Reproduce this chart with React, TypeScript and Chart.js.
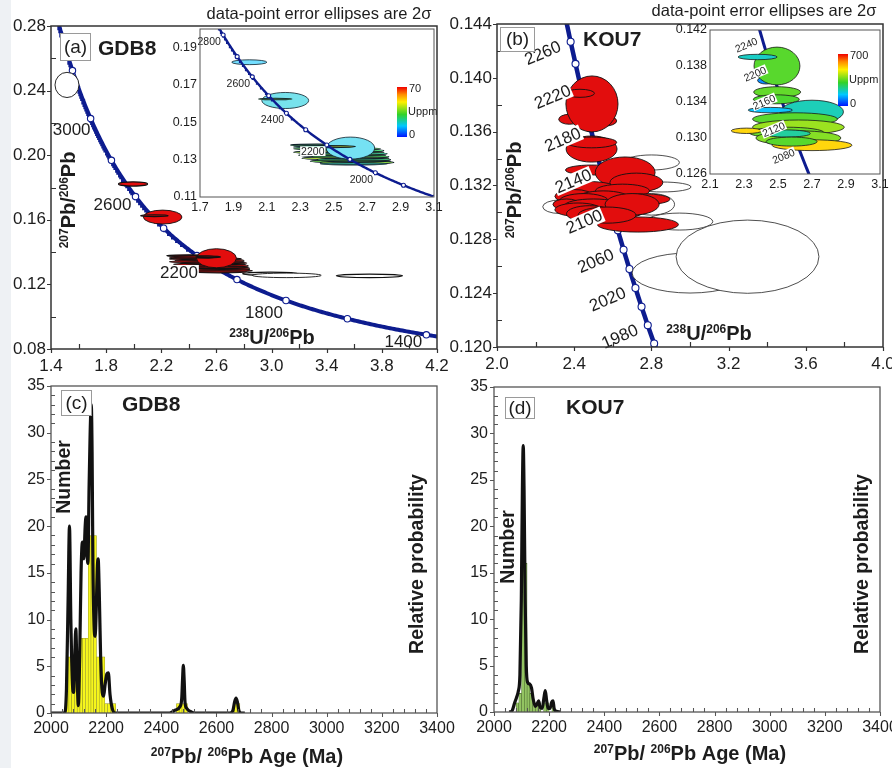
import React, { useEffect, useRef } from "react";
import { Chart, registerables } from "chart.js";

Chart.register(...registerables);

const W = 892;
const H = 768;
const FONT = "'Liberation Sans', Arial, Helvetica, sans-serif";
const INK = "#1d1d1d";
const CONCORDIA_BLUE = "#0d1c8f";
const SPOT_RED = "#e20d0d";

// U–Pb decay constants (Steiger & Jäger 1977) for the Tera–Wasserburg concordia
const LAMBDA_238 = 1.55125e-10;
const LAMBDA_235 = 9.8485e-10;
const U238_OVER_U235 = 137.88;

// ---------- (a) GDB8 Tera–Wasserburg diagram ----------
const A_X_TICKS = [1.4, 1.8, 2.2, 2.6, 3.0, 3.4, 3.8, 4.2];
const A_Y_TICKS = [0.08, 0.12, 0.16, 0.2, 0.24, 0.28];
const A_MARK_AGES = [1400, 1600, 1800, 2000, 2200, 2400, 2600, 2800, 3000, 3200];
const A_LABEL_AGES = [3000, 2600, 2200, 1800, 1400];
// [238U/206Pb, 207Pb/206Pb, 2σ x, 2σ y, U ppm]
const A_SPOTS = [
  [1.995, 0.1822, 0.105, 0.0013, 15],
  [2.21, 0.1617, 0.14, 0.0043, 18],
  [2.15, 0.1625, 0.1, 0.0004, 35],
  [2.4, 0.1378, 0.16, 0.0005, 30],
  [2.5, 0.1368, 0.24, 0.0006, 25],
  [2.52, 0.1358, 0.26, 0.0007, 32],
  [2.55, 0.1349, 0.25, 0.0008, 28],
  [2.53, 0.134, 0.27, 0.0007, 40],
  [2.58, 0.1332, 0.24, 0.0008, 24],
  [2.55, 0.1324, 0.26, 0.0007, 36],
  [2.6, 0.1316, 0.23, 0.0008, 30],
  [2.57, 0.1308, 0.26, 0.0007, 42],
  [2.62, 0.13, 0.22, 0.0008, 26],
  [2.6, 0.1292, 0.24, 0.0007, 34],
  [2.64, 0.1285, 0.22, 0.0007, 38],
  [2.62, 0.1278, 0.2, 0.0006, 22],
  [2.6, 0.1362, 0.145, 0.0059, 17],
  [2.45, 0.137, 0.15, 0.0006, 25],
  [2.54, 0.137, 0.09, 0.0004, 45],
];
// analyses not used in the age calculation (open ellipses)
const A_OPEN = [
  [1.516, 0.2435, 0.087, 0.0078],
  [2.99, 0.1266, 0.2, 0.001],
  [3.11, 0.1256, 0.25, 0.0014],
  [3.71, 0.1253, 0.24, 0.0011],
];

// (a) inset
const AI_X_TICKS = [1.7, 1.9, 2.1, 2.3, 2.5, 2.7, 2.9, 3.1];
const AI_Y_TICKS = [0.11, 0.13, 0.15, 0.17, 0.19];
const AI_MARK_AGES = [1800, 1900, 2000, 2100, 2200, 2300, 2400, 2500, 2600, 2700, 2800];
const AI_LABEL_AGES = [2800, 2600, 2400, 2200, 2000];
const AI_U_MAX = 70;

// ---------- (b) KOU7 Tera–Wasserburg diagram ----------
const B_X_TICKS = [2.0, 2.4, 2.8, 3.2, 3.6, 4.0];
const B_Y_TICKS = [0.12, 0.124, 0.128, 0.132, 0.136, 0.14, 0.144];
const B_MARK_AGES = [1960, 1980, 2000, 2020, 2040, 2060, 2080, 2100, 2120, 2140, 2160, 2180, 2200, 2220, 2240, 2260];
const B_LABEL_AGES = [2260, 2220, 2180, 2140, 2100, 2060, 2020, 1980];
const B_OPEN = [
  [2.8, 0.13371, 0.145, 0.00056],
  [2.855, 0.13189, 0.15, 0.00037],
  [2.8, 0.1306, 0.12, 0.0008],
  [2.945, 0.12932, 0.173, 0.00063],
  [2.325, 0.13042, 0.088, 0.0005],
  [3.0, 0.1255, 0.3, 0.00149],
  [3.298, 0.12671, 0.37, 0.00272],
];
const B_SPOTS = [
  [2.73, 0.1291, 0.21, 0.00056],
  [2.375, 0.13692, 0.055, 0.00037],
  [2.55, 0.1368, 0.07, 0.0004],
  [2.492, 0.13806, 0.135, 0.00208],
  [2.43, 0.13885, 0.075, 0.0003],
  [2.49, 0.13471, 0.132, 0.00097],
  [2.49, 0.1352, 0.13, 0.0004],
  [2.49, 0.13315, 0.135, 0.00037],
  [2.664, 0.13297, 0.155, 0.00115],
  [2.47, 0.1318, 0.15, 0.0005],
  [2.722, 0.13222, 0.137, 0.0007],
  [2.65, 0.1316, 0.14, 0.0005],
  [2.4, 0.1312, 0.1, 0.0005],
  [2.55, 0.131, 0.14, 0.0006],
  [2.45, 0.1308, 0.13, 0.0006],
  [2.759, 0.13098, 0.137, 0.0004],
  [2.36, 0.1306, 0.07, 0.0004],
  [2.6, 0.1302, 0.17, 0.0007],
  [2.5, 0.1305, 0.15, 0.0005],
  [2.7, 0.1306, 0.14, 0.0008],
  [2.42, 0.1302, 0.12, 0.0005],
  [2.48, 0.1299, 0.12, 0.0006],
  [2.57, 0.1298, 0.15, 0.0006],
];

// (b) inset
const BI_X_TICKS = [2.1, 2.3, 2.5, 2.7, 2.9, 3.1];
const BI_Y_TICKS = [0.126, 0.13, 0.134, 0.138, 0.142];
const BI_LABEL_AGES = [2240, 2200, 2160, 2120, 2080];
const BI_U_MAX = 700;
const BI_SPOTS = [
  [2.43, 0.1364, 0.05, 0.0004, 100],
  [2.494, 0.138, 0.135, 0.0021, 340],
  [2.38, 0.139, 0.115, 0.0003, 200],
  [2.495, 0.1351, 0.138, 0.0006, 350],
  [2.49, 0.1343, 0.135, 0.0005, 330],
  [2.7, 0.1329, 0.185, 0.0013, 210],
  [2.455, 0.1331, 0.13, 0.0003, 150],
  [2.6, 0.1321, 0.25, 0.0007, 340],
  [2.62, 0.1312, 0.27, 0.0008, 400],
  [2.55, 0.1306, 0.22, 0.0006, 360],
  [2.315, 0.1308, 0.09, 0.0003, 520],
  [2.62, 0.13, 0.25, 0.0008, 380],
  [2.55, 0.1305, 0.14, 0.0004, 230],
  [2.7, 0.1292, 0.235, 0.0006, 520],
  [2.58, 0.1296, 0.15, 0.0005, 340],
];

// ---------- (c) GDB8 age histogram ----------
const HIST_X_TICKS = [2000, 2200, 2400, 2600, 2800, 3000, 3200, 3400];
const HIST_Y_TICKS = [0, 5, 10, 15, 20, 25, 30, 35];
const BIN_WIDTH = 10;
const C_BIN_START = [2055, 2065, 2075, 2085, 2095, 2105, 2115, 2125, 2135, 2145, 2155, 2165, 2175, 2185, 2195, 2205, 2215, 2225, 2455, 2465, 2475, 2485, 2665, 2675];
const C_COUNTS = [6, 6, 6, 6, 3, 8, 8, 8, 19, 19, 19, 6, 6, 6, 1, 1, 1, 1, 1, 1, 1, 1, 1, 1];
const C_PROB_AGE = [2000, 2050, 2056, 2062, 2067, 2072, 2078, 2082, 2086, 2090, 2094, 2099, 2104, 2109, 2114, 2119, 2124, 2127, 2131, 2134, 2138, 2142, 2146, 2149, 2152, 2156, 2160, 2164, 2168, 2171, 2175, 2180, 2186, 2191, 2196, 2203, 2208, 2214, 2222, 2232, 2430, 2450, 2468, 2474, 2477, 2480, 2483, 2486, 2492, 2510, 2520, 2650, 2660, 2666, 2671, 2676, 2682, 2690, 2703];
const C_PROB = [0, 0, 2.5, 12, 20, 10, 3, 2.2, 6, 9, 5, 0.8, 6, 15, 18.3, 16.5, 20, 21, 17, 16, 24, 30, 33, 28, 16, 9.5, 8.2, 11, 15.5, 16.5, 13, 6, 2.2, 1.8, 3, 4.2, 4.3, 2, 0.5, 0, 0, 0.3, 0.7, 1.5, 3.5, 5.1, 3.5, 1.2, 0.5, 0.1, 0, 0, 0.3, 1.2, 1.6, 1.2, 0.2, 0, 0];

// ---------- (d) KOU7 age histogram ----------
const D_BIN_START = [2080, 2090, 2100, 2110, 2120, 2130, 2140, 2150, 2160, 2180, 2190, 2210];
const D_COUNTS = [1, 2, 16, 16, 3, 2, 1, 1, 1, 1, 1, 1];
const D_PROB_AGE = [2055, 2065, 2075, 2082, 2088, 2094, 2099, 2103, 2106, 2109, 2113, 2117, 2122, 2130, 2136, 2142, 2150, 2157, 2162, 2167, 2175, 2181, 2186, 2191, 2196, 2203, 2210, 2214, 2218, 2225, 2240];
const D_PROB = [0, 0.1, 1.0, 1.6, 2.2, 4, 12, 24, 28.7, 24, 12, 5, 3.2, 3, 2.6, 1.4, 0.6, 0.9, 1.2, 0.5, 0.4, 1.5, 2.3, 1.2, 0.4, 0.4, 1.1, 1.2, 0.4, 0.1, 0];

// ---------- helpers ----------
function teraWasserburg(ageMa: number) {
  const t = ageMa * 1e6;
  const e238 = Math.exp(LAMBDA_238 * t) - 1;
  const e235 = Math.exp(LAMBDA_235 * t) - 1;
  return { x: 1 / e238, y: e235 / e238 / U238_OVER_U235 };
}

function concordiaLine(fromMa: number, toMa: number, stepMa: number) {
  const pts = [];
  for (let a = fromMa; a <= toMa; a += stepMa) pts.push(teraWasserburg(a));
  return pts;
}

const U_STOPS: [number, number[]][] = [
  [0, [0, 20, 255]],
  [0.22, [0, 200, 255]],
  [0.45, [50, 210, 40]],
  [0.7, [255, 240, 0]],
  [0.85, [255, 140, 0]],
  [1, [240, 0, 0]],
];

function uColor(f: number, whiten: number) {
  f = Math.max(0, Math.min(1, f));
  let c = U_STOPS[U_STOPS.length - 1][1];
  for (let i = 1; i < U_STOPS.length; i++) {
    if (f <= U_STOPS[i][0]) {
      const [f0, c0] = U_STOPS[i - 1];
      const [f1, c1] = U_STOPS[i];
      const k = (f - f0) / (f1 - f0);
      c = c0.map((v, j) => v + (c1[j] - v) * k);
      break;
    }
  }
  const m = c.map((v) => Math.round(v + (255 - v) * whiten));
  return `rgb(${m[0]},${m[1]},${m[2]})`;
}

type Spec = { min: number; max: number; ticks: number[]; digits: number; minor: number };
type El = { x: number; y: number; rx: number; ry: number; fill: string; stroke: string; lw: number };
type Lb = { text: string; x: number; y: number; dx: number; dy: number; rot: number; size: number; box: boolean };
type Area = { l: number; t: number; r: number; b: number };

function scaleOptions(axis: string, s: Spec, size: number, pad: number, thickness: number) {
  return {
    type: "linear",
    position: axis === "x" ? "bottom" : "left",
    min: s.min,
    max: s.max,
    offset: false,
    afterBuildTicks: (sc: any) => {
      sc.ticks = s.ticks.map((v) => ({ value: v }));
    },
    afterFit: (sc: any) => {
      if (axis === "x") {
        sc.height = thickness;
        sc.paddingLeft = 0;
        sc.paddingRight = 0;
      } else {
        sc.width = thickness;
        sc.paddingTop = 0;
        sc.paddingBottom = 0;
      }
    },
    grid: { display: false, drawTicks: false },
    border: { display: false },
    ticks: {
      autoSkip: false,
      maxRotation: 0,
      minRotation: 0,
      padding: pad,
      color: INK,
      font: { family: FONT, size },
      callback: (v: any) => Number(v).toFixed(s.digits),
    },
  };
}

function layoutFor(a: Area, yw: number, xh: number) {
  return { padding: { left: a.l - yw, top: a.t, right: W - a.r, bottom: H - a.b - xh } };
}

function drawEllipses(chart: any, list: El[]) {
  const { ctx, chartArea: a, scales } = chart;
  const sx = scales.x;
  const sy = scales.y;
  ctx.save();
  ctx.beginPath();
  ctx.rect(a.left, a.top, a.right - a.left, a.bottom - a.top);
  ctx.clip();
  for (const e of list) {
    const cx = sx.getPixelForValue(e.x);
    const cy = sy.getPixelForValue(e.y);
    const rx = Math.abs(sx.getPixelForValue(e.x + e.rx) - cx);
    const ry = Math.max(0.8, Math.abs(sy.getPixelForValue(e.y + e.ry) - cy));
    ctx.beginPath();
    ctx.ellipse(cx, cy, rx, ry, 0, 0, Math.PI * 2);
    ctx.fillStyle = e.fill;
    ctx.fill();
    // thin analyses read as dark streaks: give them a heavier outline
    ctx.lineWidth = ry < 2.2 ? e.lw * 1.4 : e.lw;
    ctx.strokeStyle = e.stroke;
    ctx.stroke();
  }
  ctx.restore();
}

function drawLabels(chart: any, list: Lb[]) {
  const { ctx, scales } = chart;
  for (const l of list) {
    const px = scales.x.getPixelForValue(l.x) + l.dx;
    const py = scales.y.getPixelForValue(l.y) + l.dy;
    ctx.save();
    ctx.translate(px, py);
    ctx.rotate((l.rot * Math.PI) / 180);
    ctx.font = `${l.size}px ${FONT}`;
    const w = ctx.measureText(l.text).width;
    if (l.box) {
      ctx.fillStyle = "#ffffff";
      ctx.fillRect(-w / 2 - 1, -l.size * 0.45, w + 2, l.size * 0.92);
    }
    ctx.fillStyle = INK;
    ctx.textAlign = "center";
    ctx.textBaseline = "middle";
    ctx.fillText(l.text, 0, 1);
    ctx.restore();
  }
}

function drawFrame(chart: any, xs: Spec, ys: Spec, color: string, lw: number, minorLen: number, majorLen: number) {
  const { ctx, chartArea: a, scales } = chart;
  ctx.save();
  ctx.strokeStyle = color;
  ctx.lineWidth = Math.max(1, lw * 0.8);
  ctx.beginPath();
  const nx = Math.round((xs.max - xs.min) / xs.minor);
  for (let i = 0; i <= nx; i++) {
    const v = xs.min + i * xs.minor;
    const px = Math.round(scales.x.getPixelForValue(v)) + 0.5;
    const major = xs.ticks.some((t) => Math.abs(t - v) < xs.minor * 0.01);
    if (major) {
      ctx.moveTo(px, a.bottom);
      ctx.lineTo(px, a.bottom + majorLen);
    } else {
      ctx.moveTo(px, a.bottom);
      ctx.lineTo(px, a.bottom - minorLen);
    }
  }
  const ny = Math.round((ys.max - ys.min) / ys.minor);
  for (let i = 0; i <= ny; i++) {
    const v = ys.min + i * ys.minor;
    const py = Math.round(scales.y.getPixelForValue(v)) + 0.5;
    const major = ys.ticks.some((t) => Math.abs(t - v) < ys.minor * 0.01);
    if (major) {
      ctx.moveTo(a.left, py);
      ctx.lineTo(a.left - majorLen, py);
    } else {
      ctx.moveTo(a.left, py);
      ctx.lineTo(a.left + minorLen, py);
    }
  }
  ctx.stroke();
  ctx.lineWidth = lw;
  ctx.strokeRect(a.left, a.top, a.right - a.left, a.bottom - a.top);
  ctx.restore();
}

// text with superscript runs, centred on (cx, cy)
function drawRich(ctx: any, segs: [string, boolean][], cx: number, cy: number, size: number, rot: number) {
  const sup = Math.round(size * 0.6);
  ctx.save();
  ctx.translate(cx, cy);
  ctx.rotate(rot);
  const widths = segs.map(([t, s]) => {
    ctx.font = `bold ${s ? sup : size}px ${FONT}`;
    return ctx.measureText(t).width;
  });
  let x = -widths.reduce((p, c) => p + c, 0) / 2;
  ctx.fillStyle = INK;
  ctx.textAlign = "left";
  ctx.textBaseline = "alphabetic";
  segs.forEach(([t, s], i) => {
    ctx.font = `bold ${s ? sup : size}px ${FONT}`;
    ctx.fillText(t, x, size * 0.36 - (s ? size * 0.36 : 0));
    x += widths[i];
  });
  ctx.restore();
}

function drawTag(ctx: any, box: number[], tag: string, name: string, nameX: number, nameY: number) {
  ctx.save();
  ctx.fillStyle = "#ffffff";
  ctx.fillRect(box[0], box[1], box[2], box[3]);
  ctx.strokeStyle = "#9a9a9a";
  ctx.lineWidth = 1;
  ctx.strokeRect(box[0] + 0.5, box[1] + 0.5, box[2], box[3]);
  ctx.fillStyle = INK;
  ctx.textBaseline = "middle";
  ctx.textAlign = "center";
  ctx.font = `19px ${FONT}`;
  ctx.fillText(tag, box[0] + box[2] / 2 + 0.5, box[1] + box[3] / 2 + 1);
  ctx.textAlign = "left";
  ctx.font = `bold 21px ${FONT}`;
  ctx.fillText(name, nameX, nameY);
  ctx.restore();
}

function drawColorbar(ctx: any, x: number, y: number, w: number, h: number, top: string) {
  ctx.save();
  const g = ctx.createLinearGradient(0, y + h, 0, y);
  U_STOPS.forEach(([f]) => g.addColorStop(f, uColor(f, 0)));
  ctx.fillStyle = g;
  ctx.fillRect(x, y, w, h);
  ctx.fillStyle = INK;
  ctx.font = `11px ${FONT}`;
  ctx.textBaseline = "middle";
  ctx.textAlign = "left";
  ctx.fillText(top, x + w + 2, y + 2);
  ctx.fillText("Uppm", x + w + 1, y + h / 2);
  ctx.fillText("0", x + w + 2, y + h - 2);
  ctx.restore();
}

function drawPlain(ctx: any, text: string, x: number, y: number, size: number, bold: boolean, rot: number) {
  ctx.save();
  ctx.translate(x, y);
  ctx.rotate(rot);
  ctx.fillStyle = INK;
  ctx.font = `${bold ? "bold " : ""}${size}px ${FONT}`;
  ctx.textAlign = "center";
  ctx.textBaseline = "middle";
  ctx.fillText(text, 0, 0);
  ctx.restore();
}

function panelPlugin(o: any) {
  return {
    id: "panelDecor",
    beforeDatasetsDraw(chart: any) {
      const { ctx, chartArea: a } = chart;
      if (o.bg) {
        ctx.save();
        ctx.fillStyle = "#ffffff";
        ctx.fillRect(a.left, a.top, a.right - a.left, a.bottom - a.top);
        ctx.restore();
      }
      if (o.under) drawEllipses(chart, o.under);
    },
    afterDatasetsDraw(chart: any) {
      if (o.over) drawEllipses(chart, o.over);
      if (o.labels) drawLabels(chart, o.labels);
      drawFrame(chart, o.xs, o.ys, o.frameColor, o.frameWidth, o.minorLen, o.majorLen);
    },
    afterDraw(chart: any) {
      if (o.extra) o.extra(chart.ctx, chart);
    },
  };
}

function concordiaDatasets(fromMa: number, toMa: number, marks: number[], width: number, markR: number) {
  return [
    {
      type: "scatter",
      data: marks.map(teraWasserburg),
      pointRadius: markR,
      pointBackgroundColor: "#ffffff",
      pointBorderColor: CONCORDIA_BLUE,
      pointBorderWidth: 1.1,
      order: 0,
    },
    {
      type: "line",
      data: concordiaLine(fromMa, toMa, 5),
      borderColor: CONCORDIA_BLUE,
      borderWidth: width,
      pointRadius: 0,
      fill: false,
      tension: 0,
      order: 1,
    },
  ];
}

function chartConfig(type: string, datasets: any[], area: Area, xs: Spec, ys: Spec, fontSize: number, xpad: number, ypad: number, yw: number, xh: number, decor: any) {
  return {
    type,
    data: { datasets },
    options: {
      responsive: false,
      animation: false,
      events: [],
      layout: layoutFor(area, yw, xh),
      plugins: { legend: { display: false }, tooltip: { enabled: false } },
      scales: {
        x: scaleOptions("x", xs, fontSize, xpad, xh),
        y: scaleOptions("y", ys, fontSize, ypad, yw),
      },
    },
    plugins: [panelPlugin({ ...decor, xs, ys })],
  };
}

const HEADER = "data-point error ellipses are 2σ";
const PB_Y: [string, boolean][] = [["207", true], ["Pb/", false], ["206", true], ["Pb", false]];
const U_X: [string, boolean][] = [["238", true], ["U/", false], ["206", true], ["Pb", false]];
const AGE_X: [string, boolean][] = [["207", true], ["Pb/ ", false], ["206", true], ["Pb Age (Ma)", false]];

// label offsets (px) from each concordia age mark
const A_LABEL_OFFSETS = [[-19, 11], [-23, 8], [-18, 17], [-22, 12], [-23, 7]];

function configA() {
  const xs = { min: 1.4, max: 4.2, ticks: A_X_TICKS, digits: 1, minor: 0.2 };
  const ys = { min: 0.08, max: 0.28, ticks: A_Y_TICKS, digits: 2, minor: 0.02 };
  const open = A_OPEN.map((r) => ({ x: r[0], y: r[1], rx: r[2], ry: r[3], fill: "#ffffff", stroke: "#111", lw: 0.9 }));
  const spots = A_SPOTS.map((r) => ({ x: r[0], y: r[1], rx: r[2], ry: r[3], fill: SPOT_RED, stroke: "#111", lw: 0.9 }));
  const labels = A_LABEL_AGES.map((age, i) => {
    const p = teraWasserburg(age);
    return { text: String(age), x: p.x, y: p.y, dx: A_LABEL_OFFSETS[i][0], dy: A_LABEL_OFFSETS[i][1], rot: 0, size: 17, box: age === 2200 };
  });
  return chartConfig("scatter", concordiaDatasets(1300, 3450, A_MARK_AGES, 4, 3.2), { l: 51, t: 26, r: 437, b: 349 }, xs, ys, 17, 7, 5, 46, 30, {
    over: [...open, ...spots],
    labels,
    frameColor: "#333",
    frameWidth: 1.5,
    minorLen: 5,
    majorLen: 4,
    extra: (ctx: any) => {
      drawRich(ctx, PB_Y, 68, 200, 20, -Math.PI / 2);
      drawRich(ctx, U_X, 272, 337, 20, 0);
      drawTag(ctx, [60, 33, 30, 27], "(a)", "GDB8", 98, 49);
    },
  });
}

function configAInset() {
  const xs = { min: 1.7, max: 3.1, ticks: AI_X_TICKS, digits: 1, minor: 0.1 };
  const ys = { min: 0.11, max: 0.2, ticks: AI_Y_TICKS, digits: 2, minor: 0.01 };
  const spots = A_SPOTS.map((r) => ({ x: r[0], y: r[1], rx: r[2], ry: r[3], fill: uColor(r[4] / AI_U_MAX, r[3] > 0.001 ? 0.45 : 0.2), stroke: "#10202a", lw: 0.8 }));
  const labels = AI_LABEL_AGES.map((age) => {
    const p = teraWasserburg(age);
    return { text: String(age), x: p.x, y: p.y, dx: -14, dy: 6, rot: 0, size: 10.5, box: true };
  });
  return chartConfig("scatter", concordiaDatasets(1750, 3000, AI_MARK_AGES, 2.4, 2), { l: 200, t: 29, r: 434, b: 197 }, xs, ys, 12.5, 3, 3, 33, 20, {
    bg: true,
    under: spots,
    labels,
    frameColor: "#555",
    frameWidth: 1,
    minorLen: 0,
    majorLen: 0,
    extra: (ctx: any) => {
      drawColorbar(ctx, 397, 87, 10, 50, "70");
      drawPlain(ctx, HEADER, 319, 14, 16.5, false, 0);
    },
  });
}

function configB() {
  const xs = { min: 2.0, max: 4.0, ticks: B_X_TICKS, digits: 1, minor: 0.2 };
  const ys = { min: 0.12, max: 0.144, ticks: B_Y_TICKS, digits: 3, minor: 0.002 };
  const open = B_OPEN.map((r) => ({ x: r[0], y: r[1], rx: r[2], ry: r[3], fill: "#ffffff", stroke: "#222", lw: 0.8 }));
  const spots = B_SPOTS.map((r) => ({ x: r[0], y: r[1], rx: r[2], ry: r[3], fill: SPOT_RED, stroke: "#111", lw: 0.9 }));
  const labels = B_LABEL_AGES.map((age) => {
    const p = teraWasserburg(age);
    return { text: String(age), x: p.x, y: p.y, dx: -28, dy: 11, rot: -23, size: 17, box: true };
  });
  return chartConfig("scatter", concordiaDatasets(1900, 2320, B_MARK_AGES, 4.5, 3.5), { l: 497, t: 24, r: 883, b: 347 }, xs, ys, 17, 7, 5, 50, 30, {
    over: [...open, ...spots],
    labels,
    frameColor: "#333",
    frameWidth: 1.5,
    minorLen: 5,
    majorLen: 4,
    extra: (ctx: any) => {
      drawRich(ctx, PB_Y, 514, 190, 20, -Math.PI / 2);
      drawRich(ctx, U_X, 709, 333, 20, 0);
      drawTag(ctx, [500, 27, 34, 24], "(b)", "KOU7", 583, 40);
    },
  });
}

function configBInset() {
  const xs = { min: 2.1, max: 3.1, ticks: BI_X_TICKS, digits: 1, minor: 0.1 };
  const ys = { min: 0.126, max: 0.142, ticks: BI_Y_TICKS, digits: 3, minor: 0.002 };
  const spots = BI_SPOTS.map((r) => ({ x: r[0], y: r[1], rx: r[2], ry: r[3], fill: uColor(r[4] / BI_U_MAX, 0.05), stroke: "#1a1a1a", lw: 0.8 }));
  const labels = BI_LABEL_AGES.map((age) => {
    const p = teraWasserburg(age);
    return { text: String(age), x: p.x, y: p.y, dx: -16, dy: 6, rot: -23, size: 10.5, box: true };
  });
  return chartConfig("scatter", concordiaDatasets(2000, 2320, [], 3, 0), { l: 710, t: 30, r: 880, b: 174 }, xs, ys, 12.5, 3, 3, 38, 20, {
    bg: true,
    over: spots,
    labels,
    frameColor: "#555",
    frameWidth: 1,
    minorLen: 0,
    majorLen: 0,
    extra: (ctx: any) => {
      drawColorbar(ctx, 838, 54, 10, 52, "700");
      drawPlain(ctx, HEADER, 764, 11, 16.5, false, 0);
    },
  });
}

function histDatasets(starts: number[], counts: number[], ages: number[], prob: number[], fill: string, edge: string) {
  return [
    {
      type: "line",
      data: ages.map((a, i) => ({ x: a, y: prob[i] })),
      borderColor: "#111111",
      borderWidth: 3.2,
      pointRadius: 0,
      cubicInterpolationMode: "monotone",
      fill: false,
      order: 0,
    },
    {
      type: "bar",
      data: starts.map((s, i) => ({ x: s + BIN_WIDTH / 2, y: counts[i] })),
      backgroundColor: fill,
      borderColor: edge,
      borderWidth: 0.6,
      barPercentage: 1,
      categoryPercentage: 1,
      order: 1,
    },
  ];
}

function configHist(area: Area, starts: number[], counts: number[], ages: number[], prob: number[], fill: string, edge: string, extra: any) {
  const xs = { min: 2000, max: 3400, ticks: HIST_X_TICKS, digits: 0, minor: 40 };
  const ys = { min: 0, max: 35, ticks: HIST_Y_TICKS, digits: 0, minor: 1 };
  return chartConfig("bar", histDatasets(starts, counts, ages, prob, fill, edge), area, xs, ys, 16, 6, 6, 46, 28, {
    frameColor: "#555",
    frameWidth: 1.3,
    minorLen: 4,
    majorLen: 4,
    extra,
  });
}

function configC() {
  return configHist({ l: 51, t: 386, r: 437, b: 713 }, C_BIN_START, C_COUNTS, C_PROB_AGE, C_PROB, "#f6f61c", "#9a9a28", (ctx: any) => {
    drawPlain(ctx, "Number", 65, 477, 19.5, true, -Math.PI / 2);
    drawPlain(ctx, "Relative probability", 418, 564, 19.5, true, -Math.PI / 2);
    drawRich(ctx, AGE_X, 247, 756, 20, 0);
    drawTag(ctx, [61, 390, 30, 25], "(c)", "GDB8", 122, 405);
  });
}

function configD() {
  return configHist({ l: 494, t: 387, r: 880, b: 712 }, D_BIN_START, D_COUNTS, D_PROB_AGE, D_PROB, "#93c462", "#4e6e30", (ctx: any) => {
    drawPlain(ctx, "Number", 509, 547, 19.5, true, -Math.PI / 2);
    drawPlain(ctx, "Relative probability", 863, 564, 19.5, true, -Math.PI / 2);
    drawRich(ctx, AGE_X, 690, 753, 20, 0);
    drawTag(ctx, [505, 397, 29, 21], "(d)", "KOU7", 566, 408);
  });
}

const BUILDERS = [configA, configB, configC, configD, configAInset, configBInset];

export default function App() {
  const refs = [useRef<HTMLCanvasElement>(null), useRef<HTMLCanvasElement>(null), useRef<HTMLCanvasElement>(null), useRef<HTMLCanvasElement>(null), useRef<HTMLCanvasElement>(null), useRef<HTMLCanvasElement>(null)];

  useEffect(() => {
    const charts = BUILDERS.map((build, i) => new Chart(refs[i].current as HTMLCanvasElement, build() as any));
    return () => charts.forEach((c) => c.destroy());
  }, []);

  return (
    <div style={{ position: "absolute", left: 0, top: 0, width: W, height: H, background: "#ffffff", overflow: "hidden" }}>
      <div style={{ position: "absolute", left: 0, top: 0, width: 11, height: H, background: "#eef1f4" }} />
      {refs.map((r, i) => (
        <canvas key={i} ref={r} width={W} height={H} style={{ position: "absolute", left: 0, top: 0, width: W, height: H }} />
      ))}
    </div>
  );
}
